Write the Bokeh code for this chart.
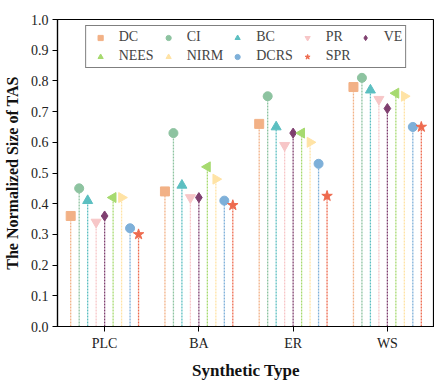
from bokeh.plotting import figure
from bokeh.models import ColumnDataSource, Legend, LegendItem, Label, FixedTicker, NumeralTickFormatter, Range1d
from bokeh.embed import file_html
from bokeh.resources import INLINE

categories = ["PLC", "BA", "ER", "WS"]
methods = ["DC", "CI", "BC", "PR", "VE", "NEES", "NIRM", "DCRS", "SPR"]
DC = [0.36, 0.44, 0.66, 0.78]
CI = [0.45, 0.63, 0.75, 0.81]
BC = [0.41, 0.46, 0.65, 0.77]
PR = [0.34, 0.42, 0.59, 0.74]
VE = [0.36, 0.42, 0.63, 0.71]
NEES = [0.42, 0.52, 0.63, 0.76]
NIRM = [0.42, 0.48, 0.60, 0.75]
DCRS = [0.32, 0.41, 0.53, 0.65]
SPR = [0.30, 0.395, 0.425, 0.65]
series = [DC, CI, BC, PR, VE, NEES, NIRM, DCRS, SPR]

colors = ["#F2B186", "#8DC3A0", "#5CBFC1", "#F7C6C7", "#7F3F6F",
          "#A6DA6F", "#FFE3A5", "#7EB0D9", "#EE6A4E"]
markers = ["square", "circle", "triangle", "inverted_triangle", "diamond",
           "triangle", "triangle", "circle", "star"]
angles = [0, 0, 0, 0, 0, 1.5708, -1.5708, 0, 0]
sizes = [9, 9, 10, 10, 10, 10, 10, 9, 11]

FONT = "Liberation Serif"

p = figure(width=434, height=382, output_backend="svg", toolbar_location=None,
           x_range=Range1d(-0.5, 3.5), y_range=Range1d(0, 1.0),
           min_border_left=52, min_border_right=0, min_border_top=19, min_border_bottom=49)
p.xgrid.visible = False
p.ygrid.visible = False
p.outline_line_color = "black"
p.outline_line_width = 1.2

step = 0.09
legend_items = []
for i, (name, vals) in enumerate(zip(methods, series)):
    off = (i - 4) * step
    xs = [j + off for j in range(len(categories))]
    src = ColumnDataSource(dict(x=xs, y=vals, y0=[0] * len(vals)))
    p.segment(x0="x", y0="y0", x1="x", y1="y", source=src, line_color=colors[i],
              line_width=1.3, line_dash="2 1")
    r = p.scatter(x="x", y="y", source=src, marker=markers[i], size=sizes[i],
                  angle=angles[i], fill_color=colors[i], line_color=colors[i])
    legend_items.append(LegendItem(label=name, renderers=[r]))

legend = Legend(items=legend_items, orientation="horizontal", ncols=5,
                location="top_center", border_line_color="black", border_line_width=1.2,
                label_text_font=FONT, label_text_font_size="14px",
                glyph_width=22, glyph_height=13, label_height=13, label_width=18,
                label_standoff=8, spacing=3,
                padding=3, margin=6, background_fill_alpha=1)
p.add_layout(legend, "center")

p.xaxis.ticker = FixedTicker(ticks=[0, 1, 2, 3])
p.xaxis.major_label_overrides = {i: c for i, c in enumerate(categories)}
p.yaxis.ticker = FixedTicker(ticks=[i / 10 for i in range(11)])
p.yaxis.formatter = NumeralTickFormatter(format="0.0")
for ax in (p.xaxis, p.yaxis):
    ax.minor_tick_line_color = None
    ax.major_tick_in = 0
    ax.major_tick_out = 5
    ax.major_label_standoff = 4
    ax.major_label_text_font = FONT
    ax.major_label_text_font_size = "14px"
    ax.major_label_text_color = "#222222"
    ax.axis_line_width = 1.2
    ax.axis_label_text_font = FONT
    ax.axis_label_text_font_style = "bold"
    ax.axis_label_text_color = "#111111"
p.xaxis.axis_label = "Synthetic Type"
p.xaxis.axis_label_text_font_size = "17px"
p.yaxis.axis_label = "The Normalized Size of TAS"
p.yaxis.axis_label_text_font_size = "16px"
p.xaxis.axis_label_standoff = 7
p.yaxis.axis_label_standoff = 7

p.add_layout(Label(x=-0.78, y=1.0, text="(a)", text_align="right", text_baseline="middle",
                   text_font=FONT, text_font_style="bold", text_font_size="15px"))

open("out.html", "w").write(file_html(p, INLINE))
